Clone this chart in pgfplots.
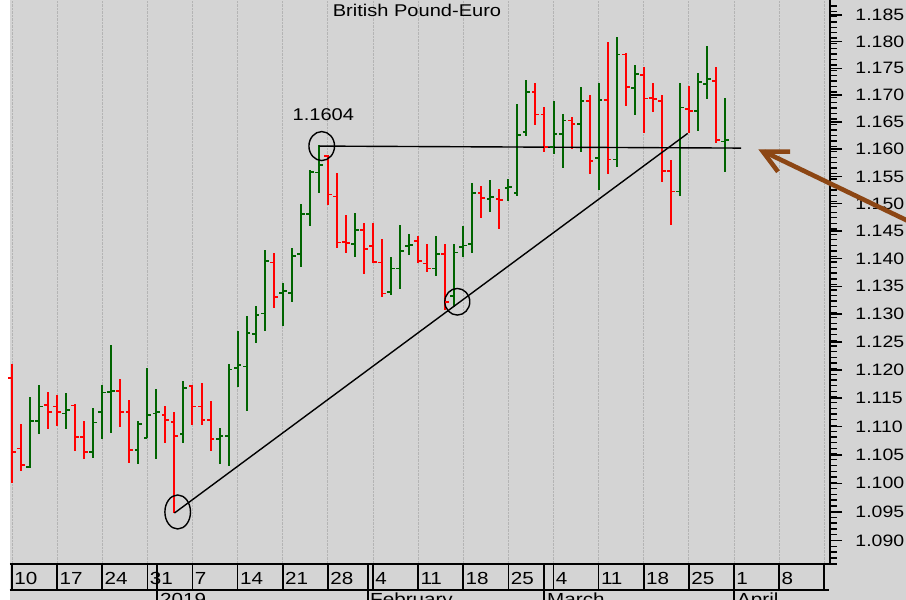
\documentclass[border=0pt]{standalone}
\usepackage{fontspec}
\setmainfont{Liberation Sans}
\newfontfamily\cf{Liberation Sans}[FakeStretch=1.18]
\usepackage{pgfplots}
\usepackage{pgfplotstable}
\pgfplotsset{compat=1.18}
\definecolor{bg}{RGB}{212,212,212}
\definecolor{upc}{RGB}{0,100,0}
\definecolor{dnc}{RGB}{255,0,0}
\definecolor{gridc}{RGB}{180,180,180}
\definecolor{arrowc}{RGB}{140,70,20}
\pgfdeclareplotmark{ohlcopen}{\pgfpathmoveto{\pgfqpoint{0pt}{0pt}}\pgfpathlineto{\pgfqpoint{-3.8pt}{0pt}}\pgfusepathqstroke}
\pgfdeclareplotmark{ohlcclose}{\pgfpathmoveto{\pgfqpoint{0pt}{0pt}}\pgfpathlineto{\pgfqpoint{3.8pt}{0pt}}\pgfusepathqstroke}
% i = trading day counted from Mon 10 Dec 2018; o h l c = open high low close
% up bars (green)
\pgfplotstableread{
i o h l c
2 1.1029 1.1152 1.1026 1.1109
3 1.1109 1.1173 1.1087 1.1135
6 1.1123 1.1159 1.1096 1.1129
9 1.1055 1.1132 1.1045 1.1107
10 1.1126 1.1173 1.1077 1.1160
11 1.1161 1.1244 1.1088 1.1163
14 1.1058 1.1109 1.1034 1.1104
15 1.1080 1.1203 1.1079 1.1120
16 1.1123 1.1166 1.1042 1.1126
19 1.1086 1.1181 1.1070 1.1168
23 1.1078 1.1098 1.1034 1.1083
24 1.1083 1.1210 1.1031 1.1201
25 1.1203 1.1270 1.1170 1.1209
26 1.1206 1.1296 1.1128 1.1266
27 1.1264 1.1314 1.1248 1.1298
28 1.1301 1.1416 1.1270 1.1396
30 1.1338 1.1356 1.1279 1.1341
31 1.1338 1.1419 1.1322 1.1405
32 1.1408 1.1499 1.1384 1.1481
33 1.1481 1.1562 1.1459 1.1558
34 1.1557 1.1607 1.1519 1.1571
38 1.1426 1.1482 1.1403 1.1452
42 1.1340 1.1403 1.1334 1.1382
43 1.1382 1.1461 1.1346 1.1414
44 1.1423 1.1444 1.1407 1.1425
47 1.1382 1.1441 1.1369 1.1408
49 1.1332 1.1426 1.1313 1.1411
50 1.1421 1.1459 1.1403 1.1424
51 1.1426 1.1537 1.1410 1.1520
53 1.1509 1.1543 1.1485 1.1512
55 1.1529 1.1546 1.1505 1.1531
56 1.1519 1.1684 1.1514 1.1626
57 1.1632 1.1728 1.1624 1.1706
60 1.1604 1.1689 1.1591 1.1628
61 1.1628 1.1666 1.1566 1.1653
63 1.1646 1.1716 1.1594 1.1689
65 1.1584 1.1722 1.1525 1.1691
67 1.1581 1.1809 1.1568 1.1776
69 1.1713 1.1756 1.1663 1.1739
74 1.1522 1.1723 1.1513 1.1677
76 1.1671 1.1741 1.1634 1.1725
77 1.1721 1.1792 1.1693 1.1730
79 1.1614 1.1695 1.1558 1.1617
}\upbars
% down bars (red)
\pgfplotstableread{
i o h l c
0 1.1186 1.1210 1.1000 1.1055
1 1.1061 1.1104 1.1022 1.1032
4 1.1138 1.1161 1.1096 1.1126
5 1.1135 1.1155 1.1101 1.1126
7 1.1137 1.1139 1.1057 1.1081
8 1.1081 1.1109 1.1042 1.1055
12 1.1163 1.1183 1.1099 1.1126
13 1.1126 1.1147 1.1035 1.1058
17 1.1120 1.1135 1.1071 1.1111
18 1.1108 1.1126 1.0948 1.1083
20 1.1172 1.1173 1.1102 1.1135
21 1.1135 1.1176 1.1102 1.1111
22 1.1111 1.1144 1.1057 1.1078
29 1.1393 1.1411 1.1310 1.1330
35 1.1587 1.1589 1.1497 1.1517
36 1.1513 1.1556 1.1419 1.1429
37 1.1430 1.1479 1.1410 1.1428
39 1.1452 1.1465 1.1372 1.1417
40 1.1423 1.1464 1.1393 1.1394
41 1.1393 1.1436 1.1331 1.1337
45 1.1432 1.1441 1.1393 1.1396
46 1.1391 1.1426 1.1375 1.1382
48 1.1408 1.1426 1.1308 1.1322
52 1.1519 1.1532 1.1474 1.1511
54 1.1509 1.1526 1.1453 1.1507
58 1.1706 1.1723 1.1645 1.1664
59 1.1664 1.1677 1.1594 1.1604
62 1.1653 1.1659 1.1600 1.1646
64 1.1689 1.1701 1.1554 1.1578
66 1.1691 1.1800 1.1554 1.1581
68 1.1776 1.1779 1.1679 1.1716
70 1.1737 1.1752 1.1630 1.1694
71 1.1695 1.1723 1.1669 1.1693
72 1.1689 1.1701 1.1539 1.1560
73 1.1560 1.1580 1.1462 1.1522
75 1.1674 1.1717 1.1629 1.1671
78 1.1727 1.1752 1.1612 1.1617
}\downbars
\begin{document}
\begin{tikzpicture}
\fill[white] (0pt,0pt) rectangle (906pt,600pt);
\fill[bg] (9.5pt,-10pt) rectangle (906pt,600pt);
\begin{axis}[
  at={(10pt,36pt)}, anchor=south west,
  scale only axis, width=820pt, height=564pt,
  xmin=-0.2216, xmax=90.637,
  ymode=log, ymin=1.08597, ymax=1.18783,
  axis x line*=bottom, axis y line*=right,
  axis line style={line width=1.8pt, black},
  xtick={0,5,...,90}, xticklabels={},
  xmajorgrids,
  major x grid style={densely dotted, line width=0.9pt, color=gridc},
  xtick style={/pgfplots/major tick length=0pt},
  ytick={1.090,1.095,1.100,1.105,1.110,1.115,1.120,1.125,1.130,1.135,1.140,1.145,1.150,1.155,1.160,1.165,1.170,1.175,1.180,1.185},
  yticklabels={1.090,1.095,1.100,1.105,1.110,1.115,1.120,1.125,1.130,1.135,1.140,1.145,1.150,1.155,1.160,1.165,1.170,1.175,1.180,1.185},
  minor ytick={1.086,1.087,...,1.187},
  tick align=outside,
  ytick style={line width=1.4pt, black, /pgfplots/major tick length=12pt, /pgfplots/minor tick length=6.5pt},
  minor tick style={line width=1.1pt},
  yticklabel style={font=\cf\fontsize{16.5}{19}\selectfont, anchor=west, inner sep=0pt, xshift=21pt},
]
\addplot[upc, only marks, mark=ohlcclose, mark options={line width=1.7pt},
  error bars/.cd, y dir=both, y explicit, error mark=none, error bar style={line width=2pt, upc}]
  table[x=i, y=c, y error plus expr={\thisrow{h}-\thisrow{c}}, y error minus expr={\thisrow{c}-\thisrow{l}}]{\upbars};
\addplot[upc, only marks, mark=ohlcopen, mark options={line width=1.7pt}]
  table[x=i, y=o]{\upbars};
\addplot[dnc, only marks, mark=ohlcclose, mark options={line width=1.7pt},
  error bars/.cd, y dir=both, y explicit, error mark=none, error bar style={line width=2pt, dnc}]
  table[x=i, y=c, y error plus expr={\thisrow{h}-\thisrow{c}}, y error minus expr={\thisrow{c}-\thisrow{l}}]{\downbars};
\addplot[dnc, only marks, mark=ohlcopen, mark options={line width=1.7pt}]
  table[x=i, y=o]{\downbars};
\addplot[black, line width=1.4pt, no marks] coordinates {(18,1.0948) (74.87,1.1629)};
\addplot[black, line width=1.4pt, no marks] coordinates {(34.05,1.1606) (80.8,1.1602)};
\draw[black, line width=1.4pt] (axis cs:18.36,1.0950) ellipse [x radius=12.8pt, y radius=17pt];
\draw[black, line width=1.4pt] (axis cs:34.32,1.1606) ellipse [x radius=12.8pt, y radius=14.5pt];
\draw[black, line width=1.4pt] (axis cs:49.34,1.1322) ellipse [x radius=12.5pt, y radius=13.3pt];
\end{axis}
% title and annotation
\node[anchor=base, inner sep=0pt, font=\cf\fontsize{17}{20}\selectfont] at (417pt,583pt) {British Pound-Euro};
\node[anchor=base, inner sep=0pt, font=\cf\fontsize{17}{20}\selectfont] at (323.3pt,479.7pt) {1.1604};
% date strip
\draw[line width=1.7pt] (9.5pt,10pt) -- (829pt,10pt);
\foreach \i/\lab in {0/10,5/17,10/24,15/31,20/7,25/14,30/21,35/28,40/4,45/11,50/18,55/25,60/4,65/11,70/18,75/25,80/1,85/8}{
  \pgfmathsetmacro\xx{12+9.025*\i}
  \node[anchor=base west, inner sep=0pt, font=\cf\fontsize{17.5}{20}\selectfont] at (\xx pt+2.2pt,15pt) {\lab};
}
\foreach \i in {0,5,...,90}{
  \pgfmathsetmacro\xx{12+9.025*\i}
  \draw[line width=1.7pt] (\xx pt,36pt) -- (\xx pt,10pt);
}
\foreach \xx in {157,368,544,734}{
  \draw[line width=1.7pt] (\xx pt,36pt) -- (\xx pt,-10pt);
}
\node[anchor=base west, inner sep=0pt, font=\cf\fontsize{17.5}{20}\selectfont] at (160pt,-5.5pt) {2019};
\node[anchor=base west, inner sep=0pt, font=\cf\fontsize{17.5}{20}\selectfont] at (370pt,-5.5pt) {February};
\node[anchor=base west, inner sep=0pt, font=\cf\fontsize{17.5}{20}\selectfont] at (547pt,-5.5pt) {March};
\node[anchor=base west, inner sep=0pt, font=\cf\fontsize{17.5}{20}\selectfont] at (737pt,-5.5pt) {April};
% arrow
\draw[arrowc, line width=4.6pt] (930pt,368.5pt) -- (764pt,448.3pt);
\draw[arrowc, line width=4.6pt, line join=miter] (790pt,448.3pt) -- (763pt,448.3pt) -- (778pt,428.3pt);
\pgfresetboundingbox
\useasboundingbox (0pt,0pt) rectangle (906pt,600pt);
\end{tikzpicture}
\end{document}
